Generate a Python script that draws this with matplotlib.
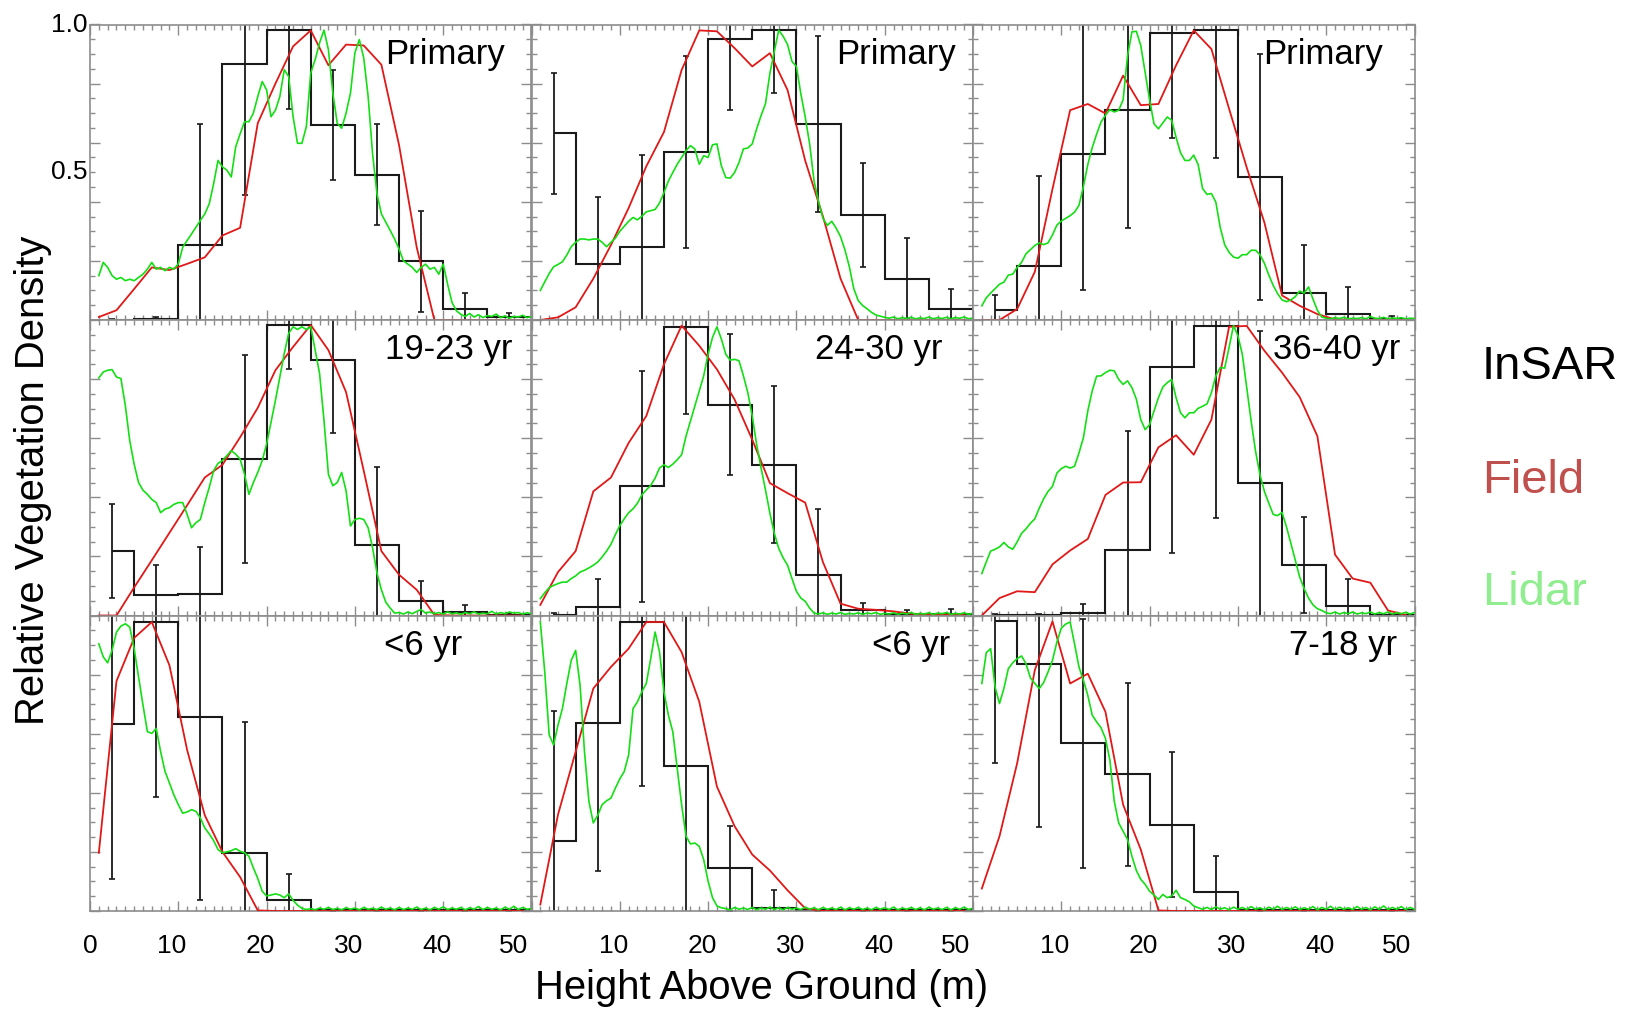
import numpy as np
import matplotlib
matplotlib.use("Agg")
import matplotlib.pyplot as plt
from matplotlib.ticker import MultipleLocator

plt.rcParams["font.family"] = ["Liberation Sans", "DejaVu Sans"]

# bin centres of the InSAR profiles (m) and heights of the field profiles (m)
insar_h = [2.5, 7.5, 12.5, 17.5, 22.5, 27.5, 32.5, 37.5, 42.5, 47.5]
field_h = [1, 3, 5, 7, 9, 11, 13, 15, 17, 19, 21, 23, 25,
           27, 29, 31, 33, 35, 37, 39, 41, 43, 45, 47, 49]
lidar_step = 0.5  # lidar profiles sampled every 0.5 m starting at 1 m

panel_labels = ["Primary", "Primary", "Primary",
                "19-23 yr", "24-30 yr", "36-40 yr",
                "<6 yr", "<6 yr", "7-18 yr"]
x_ticks = [0, 10, 20, 30, 40, 50]

# ---- InSAR (black histogram) and its errors -------------------------------
insar_1 = [0.0, 0.003, 0.254, 0.866, 0.983, 0.66, 0.492, 0.198, 0.036, 0.01]
insar_err_1 = [0.005, 0.006, 0.41, 0.444, 0.27, 0.187, 0.17, 0.171, 0.054, 0.015]
insar_2 = [0.632, 0.191, 0.246, 0.569, 0.951, 0.98, 0.664, 0.356, 0.14, 0.038]
insar_err_2 = [0.205, 0.225, 0.312, 0.326, 0.239, 0.213, 0.298, 0.175, 0.137, 0.066]
insar_3 = [0.035, 0.183, 0.563, 0.712, 0.971, 0.98, 0.483, 0.092, 0.02, 0.003]
insar_err_3 = [0.051, 0.303, 0.463, 0.40, 0.355, 0.433, 0.417, 0.163, 0.092, 0.01]
insar_4 = [0.218, 0.07, 0.074, 0.529, 0.983, 0.864, 0.24, 0.048, 0.011, 0.003]
insar_err_4 = [0.16, 0.10, 0.158, 0.352, 0.15, 0.247, 0.261, 0.068, 0.025, 0.005]
insar_5 = [0.003, 0.028, 0.437, 0.978, 0.714, 0.51, 0.138, 0.017, 0.006, 0.006]
insar_err_5 = [0.005, 0.094, 0.39, 0.295, 0.238, 0.266, 0.222, 0.026, 0.014, 0.016]
insar_6 = [0.002, 0.002, 0.008, 0.223, 0.842, 0.981, 0.45, 0.17, 0.031, 0.002]
insar_err_6 = [0.003, 0.003, 0.032, 0.40, 0.63, 0.652, 0.514, 0.162, 0.091, 0.004]
insar_7 = [0.633, 0.978, 0.657, 0.197, 0.037, 0.002, 0.002, 0.002, 0.002, 0.002]
insar_err_7 = [0.526, 0.593, 0.62, 0.443, 0.089, 0.003, 0.002, 0.002, 0.002, 0.002]
insar_8 = [0.238, 0.637, 0.978, 0.492, 0.144, 0.011, 0.002, 0.002, 0.002, 0.002]
insar_err_8 = [0.438, 0.50, 0.554, 0.60, 0.145, 0.06, 0.003, 0.002, 0.002, 0.002]
insar_9 = [0.98, 0.837, 0.567, 0.463, 0.292, 0.065, 0.003, 0.002, 0.002, 0.002]
insar_err_9 = [0.478, 0.553, 0.42, 0.31, 0.245, 0.12, 0.004, 0.002, 0.002, 0.002]

# ---- Field (red) ------------------------------------------------------------
field_1 = [0.01, 0.033, 0.105, 0.178, 0.169, 0.19, 0.212, 0.286, 0.312, 0.666, 0.80,
           0.926, 0.98, 0.862, 0.932, 0.929, 0.864, 0.592, 0.246, 0, 0, 0, 0, 0, 0]
field_2 = [0, 0.009, 0.043, 0.14, 0.254, 0.379, 0.52, 0.636, 0.846, 0.98, 0.977,
           0.92, 0.858, 0.903, 0.778, 0.539, 0.351, 0.14, 0, 0, 0, 0, 0, 0, 0]
field_3 = [0, 0, 0.037, 0.163, 0.443, 0.71, 0.731, 0.699, 0.827, 0.727, 0.731,
           0.862, 0.98, 0.917, 0.715, 0.516, 0.33, 0.083, 0.048, 0.02, 0.002, 0, 0, 0, 0]
field_4 = [0, 0, 0.095, 0.187, 0.28, 0.373, 0.467, 0.51, 0.603, 0.703, 0.83,
           0.909, 0.983, 0.898, 0.756, 0.49, 0.218, 0.138, 0.087, 0.002, 0, 0, 0, 0, 0]
field_5 = [0.036, 0.147, 0.218, 0.42, 0.467, 0.584, 0.675, 0.85, 0.981, 0.913, 0.833,
           0.731, 0.595, 0.448, 0.414, 0.382, 0.181, 0.04, 0.023, 0.019, 0.014,
           0.006, 0.003, 0.003, 0.002]
field_6 = [0, 0.059, 0.082, 0.079, 0.173, 0.22, 0.259, 0.408, 0.45, 0.451, 0.569,
           0.61, 0.544, 0.663, 0.977, 0.98, 0.896, 0.822, 0.739, 0.607, 0.206,
           0.125, 0.111, 0.017, 0.002]
field_7 = [0.197, 0.778, 0.924, 0.978, 0.831, 0.545, 0.324, 0.2, 0.115, 0.002,
           0, 0, 0, 0, 0, 0, 0, 0, 0, 0, 0, 0, 0, 0, 0]
field_8 = [0.022, 0.326, 0.539, 0.753, 0.826, 0.888, 0.978, 0.978, 0.876, 0.708,
           0.421, 0.287, 0.191, 0.137, 0.07, 0.009, 0, 0, 0, 0, 0, 0, 0, 0, 0]
field_9 = [0.076, 0.253, 0.5, 0.815, 0.98, 0.77, 0.803, 0.674, 0.36, 0.208, 0.002,
           0, 0, 0, 0, 0, 0, 0, 0, 0, 0, 0, 0, 0, 0]

# ---- Lidar (green), 1.0 m .. 50.0 m every 0.5 m -----------------------------
lidar_1 = [0.15, 0.195, 0.178, 0.15, 0.138, 0.144, 0.133, 0.138, 0.133, 0.144,
           0.155, 0.172, 0.195, 0.172, 0.178, 0.167, 0.178, 0.172, 0.19, 0.246,
           0.269, 0.291, 0.314, 0.337, 0.359, 0.393, 0.461, 0.54, 0.518, 0.507,
           0.484, 0.586, 0.63, 0.671, 0.671, 0.70, 0.756, 0.807, 0.779, 0.688,
           0.71, 0.756, 0.847, 0.824, 0.688, 0.598, 0.598, 0.654, 0.836, 0.881,
           0.938, 0.981, 0.915, 0.768, 0.666, 0.649, 0.70, 0.768, 0.904, 0.949,
           0.887, 0.756, 0.563, 0.427, 0.359, 0.331, 0.303, 0.274, 0.24, 0.20,
           0.189, 0.178, 0.161, 0.178, 0.189, 0.172, 0.178, 0.155, 0.189, 0.121,
           0.059, 0.031, 0.019, 0.012, 0.022, 0.01, 0.018, 0.008, 0.015, 0.012,
           0.02, 0.008, 0.014, 0.006, 0.012, 0.01, 0.016, 0.008, 0.012]
lidar_2 = [0.10, 0.129, 0.157, 0.18, 0.188, 0.197, 0.22, 0.248, 0.263, 0.274,
           0.274, 0.271, 0.274, 0.274, 0.263, 0.248, 0.263, 0.277, 0.30, 0.317,
           0.334, 0.347, 0.339, 0.351, 0.366, 0.37, 0.374, 0.396, 0.431, 0.47,
           0.499, 0.527, 0.55, 0.573, 0.59, 0.579, 0.527, 0.556, 0.55, 0.593,
           0.596, 0.522, 0.482, 0.48, 0.499, 0.533, 0.579, 0.582, 0.596, 0.647,
           0.692, 0.732, 0.835, 0.909, 0.981, 0.96, 0.932, 0.875, 0.858, 0.766,
           0.687, 0.596, 0.47, 0.402, 0.345, 0.32, 0.334, 0.311, 0.282, 0.237,
           0.18, 0.106, 0.066, 0.049, 0.038, 0.026, 0.017, 0.013, 0.009, 0.006,
           0.01, 0.004, 0.008, 0.005, 0.009, 0.004, 0.007, 0.005, 0.01, 0.004,
           0.008, 0.005, 0.009, 0.004, 0.008, 0.006, 0.01, 0.004, 0.007]
lidar_3 = [0.048, 0.075, 0.091, 0.106, 0.121, 0.128, 0.152, 0.155, 0.178, 0.195,
           0.224, 0.238, 0.252, 0.261, 0.255, 0.261, 0.288, 0.321, 0.335, 0.344,
           0.353, 0.365, 0.388, 0.451, 0.526, 0.583, 0.629, 0.67, 0.693, 0.712,
           0.704, 0.71, 0.745, 0.894, 0.975, 0.977, 0.929, 0.837, 0.745, 0.664,
           0.647, 0.667, 0.687, 0.676, 0.618, 0.566, 0.54, 0.54, 0.558, 0.526,
           0.445, 0.425, 0.428, 0.399, 0.313, 0.255, 0.229, 0.213, 0.209, 0.221,
           0.221, 0.236, 0.236, 0.221, 0.192, 0.152, 0.117, 0.089, 0.068, 0.062,
           0.068, 0.079, 0.098, 0.091, 0.112, 0.071, 0.033, 0.01, 0.006, 0.004,
           0.008, 0.005, 0.009, 0.004, 0.006, 0.005, 0.008, 0.004, 0.012, 0.006,
           0.005, 0.009, 0.004, 0.007, 0.005, 0.008, 0.004, 0.006, 0.005]
lidar_4 = [0.804, 0.824, 0.83, 0.832, 0.807, 0.802, 0.711, 0.592, 0.512, 0.45,
           0.424, 0.41, 0.393, 0.382, 0.348, 0.36, 0.365, 0.376, 0.382, 0.382,
           0.342, 0.297, 0.314, 0.325, 0.382, 0.433, 0.49, 0.515, 0.524, 0.541,
           0.558, 0.546, 0.529, 0.478, 0.41, 0.45, 0.484, 0.524, 0.58, 0.654,
           0.728, 0.807, 0.887, 0.955, 0.977, 0.968, 0.977, 0.968, 0.977, 0.898,
           0.819, 0.66, 0.478, 0.439, 0.45, 0.484, 0.422, 0.303, 0.325, 0.329,
           0.325, 0.297, 0.229, 0.144, 0.087, 0.045, 0.025, 0.008, 0.01, 0.005,
           0.012, 0.006, 0.014, 0.02, 0.008, 0.012, 0.006, 0.01, 0.005, 0.012,
           0.006, 0.009, 0.004, 0.01, 0.006, 0.012, 0.005, 0.008, 0.006, 0.014,
           0.005, 0.01, 0.006, 0.012, 0.008, 0.01, 0.005, 0.009, 0.006]
lidar_5 = [0.057, 0.077, 0.094, 0.102, 0.108, 0.113, 0.113, 0.125, 0.134, 0.147,
           0.153, 0.161, 0.17, 0.181, 0.198, 0.218, 0.241, 0.274, 0.304, 0.327,
           0.348, 0.361, 0.38, 0.408, 0.425, 0.44, 0.465, 0.499, 0.51, 0.501,
           0.512, 0.527, 0.544, 0.607, 0.658, 0.709, 0.76, 0.811, 0.884, 0.941,
           0.977, 0.936, 0.884, 0.864, 0.867, 0.862, 0.811, 0.754, 0.675, 0.578,
           0.499, 0.425, 0.346, 0.278, 0.227, 0.195, 0.17, 0.125, 0.082, 0.059,
           0.048, 0.025, 0.008, 0.005, 0.009, 0.004, 0.008, 0.005, 0.01, 0.004,
           0.007, 0.005, 0.009, 0.004, 0.008, 0.006, 0.01, 0.004, 0.007, 0.005,
           0.009, 0.004, 0.008, 0.005, 0.01, 0.004, 0.007, 0.005, 0.009, 0.004,
           0.008, 0.006, 0.01, 0.004, 0.007, 0.005, 0.009, 0.004, 0.008]
lidar_6 = [0.142, 0.181, 0.218, 0.224, 0.232, 0.247, 0.232, 0.224, 0.249, 0.278,
           0.293, 0.312, 0.327, 0.363, 0.395, 0.42, 0.437, 0.482, 0.497, 0.505,
           0.499, 0.505, 0.55, 0.601, 0.692, 0.76, 0.81, 0.811, 0.822, 0.83,
           0.828, 0.799, 0.782, 0.794, 0.771, 0.732, 0.663, 0.629, 0.646, 0.692,
           0.737, 0.773, 0.788, 0.799, 0.737, 0.686, 0.669, 0.686, 0.686, 0.701,
           0.708, 0.716, 0.754, 0.811, 0.839, 0.837, 0.907, 0.981, 0.947, 0.884,
           0.771, 0.658, 0.556, 0.476, 0.42, 0.38, 0.342, 0.338, 0.349, 0.30,
           0.244, 0.187, 0.13, 0.091, 0.059, 0.036, 0.023, 0.017, 0.009, 0.006,
           0.012, 0.005, 0.01, 0.006, 0.012, 0.005, 0.009, 0.006, 0.012, 0.005,
           0.01, 0.006, 0.012, 0.005, 0.009, 0.006, 0.011, 0.005, 0.01]
lidar_7 = [0.904, 0.86, 0.84, 0.882, 0.944, 0.964, 0.972, 0.961, 0.888, 0.792,
           0.697, 0.607, 0.601, 0.618, 0.539, 0.472, 0.433, 0.393, 0.36, 0.331,
           0.335, 0.343, 0.337, 0.315, 0.281, 0.261, 0.238, 0.208, 0.197, 0.20,
           0.204, 0.211, 0.202, 0.197, 0.185, 0.146, 0.11, 0.067, 0.051, 0.054,
           0.058, 0.054, 0.045, 0.058, 0.036, 0.02, 0.009, 0.005, 0.008, 0.004,
           0.01, 0.006, 0.012, 0.005, 0.009, 0.004, 0.011, 0.006, 0.01, 0.004,
           0.012, 0.006, 0.009, 0.005, 0.013, 0.006, 0.01, 0.004, 0.012, 0.005,
           0.01, 0.006, 0.013, 0.005, 0.01, 0.004, 0.012, 0.006, 0.014, 0.005,
           0.01, 0.006, 0.012, 0.004, 0.011, 0.006, 0.015, 0.005, 0.012, 0.006,
           0.01, 0.004, 0.013, 0.006, 0.016, 0.005, 0.012, 0.006, 0.009]
lidar_8 = [0.978, 0.809, 0.596, 0.562, 0.629, 0.685, 0.77, 0.848, 0.882, 0.764,
           0.539, 0.371, 0.298, 0.324, 0.36, 0.373, 0.382, 0.416, 0.447, 0.472,
           0.528, 0.685, 0.708, 0.742, 0.77, 0.854, 0.944, 0.876, 0.742, 0.663,
           0.607, 0.483, 0.36, 0.253, 0.227, 0.23, 0.219, 0.174, 0.101, 0.045,
           0.017, 0.011, 0.008, 0.004, 0.012, 0.006, 0.01, 0.005, 0.012, 0.004,
           0.01, 0.006, 0.013, 0.005, 0.011, 0.004, 0.012, 0.006, 0.01, 0.005,
           0.013, 0.006, 0.011, 0.004, 0.012, 0.006, 0.01, 0.005, 0.013, 0.004,
           0.011, 0.006, 0.012, 0.005, 0.01, 0.004, 0.012, 0.006, 0.011, 0.005,
           0.013, 0.004, 0.01, 0.006, 0.012, 0.005, 0.011, 0.004, 0.013, 0.006,
           0.01, 0.005, 0.012, 0.004, 0.011, 0.006, 0.013, 0.005, 0.01]
lidar_9 = [0.77, 0.874, 0.888, 0.758, 0.702, 0.753, 0.82, 0.84, 0.854, 0.863,
           0.837, 0.789, 0.77, 0.753, 0.773, 0.809, 0.848, 0.91, 0.957, 0.971,
           0.978, 0.904, 0.826, 0.781, 0.73, 0.663, 0.64, 0.62, 0.584, 0.511,
           0.371, 0.298, 0.27, 0.242, 0.185, 0.137, 0.107, 0.09, 0.067, 0.054,
           0.039, 0.056, 0.045, 0.051, 0.07, 0.045, 0.039, 0.031, 0.017, 0.011,
           0.006, 0.012, 0.005, 0.014, 0.006, 0.011, 0.004, 0.013, 0.006, 0.012,
           0.005, 0.015, 0.006, 0.011, 0.004, 0.013, 0.006, 0.016, 0.005, 0.012,
           0.006, 0.014, 0.005, 0.011, 0.006, 0.015, 0.004, 0.012, 0.006, 0.016,
           0.005, 0.013, 0.006, 0.011, 0.005, 0.015, 0.006, 0.012, 0.004, 0.014,
           0.006, 0.017, 0.005, 0.012, 0.006, 0.015, 0.005, 0.012, 0.006]

insar_all = [insar_1, insar_2, insar_3, insar_4, insar_5, insar_6, insar_7, insar_8, insar_9]
insar_err_all = [insar_err_1, insar_err_2, insar_err_3, insar_err_4, insar_err_5,
                 insar_err_6, insar_err_7, insar_err_8, insar_err_9]
field_all = [field_1, field_2, field_3, field_4, field_5, field_6, field_7, field_8, field_9]
lidar_all = [lidar_1, lidar_2, lidar_3, lidar_4, lidar_5, lidar_6, lidar_7, lidar_8, lidar_9]

# where the right edge of each panel label sits (m)
label_x = [47.0, 48.1, 46.4, 47.9, 46.5, 48.4, 42.2, 47.4, 48.0]

RED = "#e01818"
GREEN = "#14de14"
BLACK = "#1a1a1a"
FRAME = "#8c8c8c"

W, H = 1638, 1010
fig = plt.figure(figsize=(W / 100, H / 100), dpi=100)

col_left = [90, 531.5, 973]
row_top = [24.5, 320, 615.5]
pw, ph = 441.5, 295.5

c = np.array(insar_h)
edges = np.concatenate([[c[0]], (c[:-1] + c[1:]) / 2, [c[-1] + 2.5]])

for i in range(9):
    row, col = divmod(i, 3)
    ax = fig.add_axes([col_left[col] / W, 1 - (row_top[row] + ph) / H, pw / W, ph / H])

    ax.stairs(insar_all[i], edges, color=BLACK, lw=1.5, baseline=None, zorder=2)
    ax.errorbar(insar_h, insar_all[i], yerr=insar_err_all[i], fmt="none",
                ecolor=BLACK, elinewidth=1.3, capsize=2.5, capthick=1.2, zorder=2)
    ax.plot(field_h, field_all[i], color=RED, lw=1.3, zorder=3)
    lid = np.array(lidar_all[i])
    lid_h = 1.0 + lidar_step * np.arange(len(lid))
    ax.plot(lid_h, lid, color=GREEN, lw=1.2, zorder=4)

    ax.set_xlim(0, 50)
    ax.set_ylim(0, 1.0)
    ax.xaxis.set_major_locator(MultipleLocator(10))
    ax.xaxis.set_minor_locator(MultipleLocator(1))
    ax.yaxis.set_major_locator(MultipleLocator(0.2))
    ax.yaxis.set_minor_locator(MultipleLocator(0.05))
    ax.tick_params(which="both", direction="in", top=True, right=True,
                   color=FRAME, width=1.0, labelleft=False, labelbottom=False)
    ax.tick_params(which="major", length=7)
    ax.tick_params(which="minor", length=3.5)
    for sp in ax.spines.values():
        sp.set_color(FRAME)
        sp.set_linewidth(1.2)

    if row == 2:
        # tick labels sit a little left of their ticks in the original
        xtr = ax.get_xaxis_transform()
        for tv in x_ticks:
            if tv == 0 and col > 0:
                continue
            shift = 0 if tv == 0 else (-2.0 if tv == 50 else -0.7)
            ax.text(tv + shift, -0.118, str(tv), transform=xtr,
                    ha="center", va="center", fontsize=19)

    if i == 0:
        ytr = ax.get_yaxis_transform()
        ax.text(-0.006, 1.0, "1.0", transform=ytr, ha="right", va="center", fontsize=19)
        ax.text(-0.006, 0.5, "0.5", transform=ytr, ha="right", va="center", fontsize=19)

    ax.text(label_x[i], 0.868, panel_labels[i], ha="right", va="baseline", fontsize=25)

fig.text(33 / W, 1 - 480 / H, "Relative Vegetation Density", rotation=90,
         ha="center", va="center", fontsize=28.8)
fig.text(762 / W, 1 - 988 / H, "Height Above Ground (m)",
         ha="center", va="center", fontsize=28.8)

fig.text(1482 / W, 1 - 379 / H, "InSAR", color="black", fontsize=34, va="baseline")
fig.text(1482 / W, 1 - 493 / H, "Field", color="#c0504d", fontsize=34, va="baseline")
fig.text(1482 / W, 1 - 605 / H, "Lidar", color="#90ee90", fontsize=34, va="baseline")

fig.savefig("out.png", dpi=100)
